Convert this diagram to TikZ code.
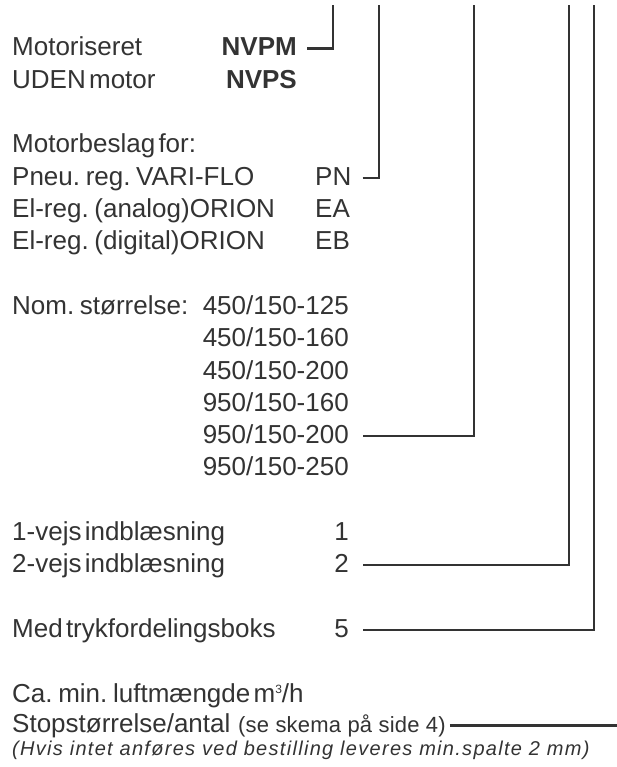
\documentclass[tikz,border=0pt]{standalone}
\usepackage{fontspec}
\setmainfont[WordSpace=0.45]{Liberation Sans}
\newfontfamily\smallf[LetterSpace=1]{Liberation Sans}
\newfontfamily\smallit[LetterSpace=6.5]{Liberation Sans Italic}
\definecolor{ink}{HTML}{333333}
\begin{document}
\begin{tikzpicture}[x=1pt,y=-1pt,
  txt/.style={inner sep=0pt, text height=15pt, text depth=0pt, text=ink, font=\fontsize{26}{30}\selectfont},
  codeb/.style={txt, font=\fontsize{26}{30}\selectfont\bfseries},
  note/.style={inner sep=0pt, text height=13pt, text depth=0pt, text=ink, font=\smallf\fontsize{22}{26}\selectfont},
  conn/.style={draw=ink, line width=2.3pt, line cap=butt, line join=miter}]
\fill[white] (0,0) rectangle (617,767);
\useasboundingbox (0,0) rectangle (617,767);
% top ends of the vertical leaders
\coordinate (t1) at (333,5);
\coordinate (t2) at (379,5);
\coordinate (t3) at (474,5);
\coordinate (t4) at (569,5);
\coordinate (t5) at (594,5);
\coordinate (stopend) at (617,727);
% block 1
\node[txt, anchor=base west] (motor) at (12,56) {Motoriseret};
\node[codeb, anchor=base east] (nvpm) at (297,56) {NVPM};
\node[txt, anchor=base west] (uden) at (12,88.3) {UDEN motor};
\node[codeb, anchor=base east] (nvps) at (297,88.3) {NVPS};
% block 2
\node[txt, anchor=base west] (beslag) at (12,152.9) {Motorbeslag for:};
\node[txt, anchor=base west] (pneu) at (12,185.2) {Pneu. reg. VARI-FLO};
\node[txt, anchor=base west] (pn) at (315,185.2) {PN};
\node[txt, anchor=base west] (ana) at (12,217.5) {El-reg. (analog)ORION};
\node[txt, anchor=base west] (ea) at (315,217.5) {EA};
\node[txt, anchor=base west] (dig) at (12,249.8) {El-reg. (digital)ORION};
\node[txt, anchor=base west] (eb) at (315,249.8) {EB};
% block 3
\node[txt, anchor=base west] (nom) at (12,314.4) {Nom. størrelse:};
\node[txt, anchor=base east] (a125) at (349,314.4) {450/150-125};
\node[txt, anchor=base east] (a160) at (349,346.7) {450/150-160};
\node[txt, anchor=base east] (a200) at (349,379) {450/150-200};
\node[txt, anchor=base east] (b160) at (349,411.3) {950/150-160};
\node[txt, anchor=base east] (b200) at (349,443.6) {950/150-200};
\node[txt, anchor=base east] (b250) at (349,475.9) {950/150-250};
% block 4
\node[txt, anchor=base west] (vej1) at (12,540.5) {1-vejs indblæsning};
\node[txt, anchor=base east] (one) at (349,540.5) {1};
\node[txt, anchor=base west] (vej2) at (12,572.8) {2-vejs indblæsning};
\node[txt, anchor=base east] (two) at (349,572.8) {2};
% block 5
\node[txt, anchor=base west] (med) at (12,637.4) {Med trykfordelingsboks};
\node[txt, anchor=base east] (five) at (349,637.4) {5};
% bottom
\node[txt, anchor=base west] (ca) at (12,702) {Ca. min. luftmængde m\raisebox{9pt}{\fontsize{12}{12}\selectfont 3}/h};
\node[txt, anchor=base west] (stop) at (12,732) {Stopstørrelse/antal};
\node[note, anchor=base west] (stopnote) at (238,732) {(se skema på side 4)};
\node[note, anchor=base west, font=\smallit\fontsize{20}{24}\selectfont] (hvis) at (12,755) {(Hvis intet anføres ved bestilling leveres min.spalte 2 mm)};
% connectors
\draw[conn] ([xshift=10pt]nvpm.east) -| (t1);
\draw[conn] ([xshift=11pt]pn.east) -| (t2);
\draw[conn] ([xshift=14pt]b200.east) -| (t3);
\draw[conn] ([xshift=14pt]two.east) -| (t4);
\draw[conn] ([xshift=14pt]five.east) -| (t5);
\draw[conn] ([xshift=4pt]stopnote.east) -- (stopend |- stopnote.east);
\end{tikzpicture}
\end{document}
